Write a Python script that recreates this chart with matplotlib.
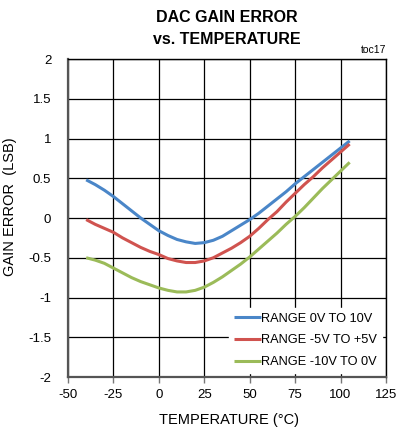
import matplotlib
matplotlib.use('Agg')
import matplotlib.pyplot as plt

# Temperature points (deg C)
temp = [-40, -35, -30, -25, -20, -15, -10, -5, 0, 5, 10, 15, 20, 25, 30,
        35, 40, 45, 50, 55, 60, 65, 70, 75, 80, 85, 90, 95, 100, 105]

# Gain error (LSB) for each range
range_0_10 = [0.48, 0.42, 0.35, 0.27, 0.18, 0.09, 0.00, -0.08, -0.16, -0.22,
              -0.27, -0.30, -0.32, -0.31, -0.28, -0.23, -0.16, -0.09, -0.02, 0.06,
              0.15, 0.24, 0.33, 0.43, 0.52, 0.61, 0.70, 0.79, 0.88, 0.97]
range_m5_p5 = [-0.02, -0.08, -0.13, -0.18, -0.25, -0.31, -0.37, -0.42, -0.46, -0.51,
               -0.54, -0.56, -0.56, -0.54, -0.50, -0.44, -0.38, -0.31, -0.23, -0.13,
               -0.02, 0.08, 0.20, 0.31, 0.42, 0.52, 0.63, 0.73, 0.83, 0.93]
range_m10_0 = [-0.50, -0.53, -0.57, -0.63, -0.69, -0.75, -0.80, -0.84, -0.88, -0.91,
               -0.93, -0.93, -0.91, -0.87, -0.81, -0.74, -0.66, -0.58, -0.49, -0.39,
               -0.29, -0.19, -0.08, 0.02, 0.13, 0.25, 0.37, 0.48, 0.59, 0.70]

labels = ['RANGE 0V TO 10V', 'RANGE -5V TO +5V', 'RANGE -10V TO 0V']
colors = ['#4A86C8', '#D0534F', '#9BBB59']

xticks = [-50, -25, 0, 25, 50, 75, 100, 125]
yticks = [-2, -1.5, -1, -0.5, 0, 0.5, 1, 1.5, 2]
ytick_labels = ['-2', '-1.5', '-1', '-0.5', '0', '0.5', '1', '1.5', '2']

plt.rcParams['font.family'] = ['Liberation Sans', 'DejaVu Sans']
plt.rcParams['axes.unicode_minus'] = False

fig = plt.figure(figsize=(3.96, 4.32), dpi=100)
ax = fig.add_axes([68/396, 1 - 377/432, 318/396, 318/432])

for ys, lab, c in zip([range_0_10, range_m5_p5, range_m10_0], labels, colors):
    ax.plot(temp, ys, color=c, lw=2.2, label=lab, solid_capstyle='butt', zorder=3)

ax.set_xlim(-50, 125)
ax.set_ylim(-2, 2)
ax.set_xticks(xticks)
ax.set_yticks(yticks)
ax.set_yticklabels(ytick_labels)
ax.grid(True, color='black', lw=0.9, zorder=1)
ax.tick_params(axis='x', direction='out', length=4, width=1, color='#777777',
               labelsize=9.5, pad=5)
ax.tick_params(axis='y', length=0, labelsize=9.5, pad=12)
for s in ['left', 'bottom']:
    ax.spines[s].set_color('#555555')
    ax.spines[s].set_linewidth(1.6)
for s in ['top', 'right']:
    ax.spines[s].set_color('black')
    ax.spines[s].set_linewidth(1.0)

leg = ax.legend(loc='lower right', frameon=True, fontsize=9.2, handlelength=2.1,
                handletextpad=0.05, borderaxespad=0.3, labelspacing=0.75,
                fancybox=False, borderpad=0.4)
leg.get_frame().set_edgecolor('white')
leg.get_frame().set_facecolor('white')
leg.get_frame().set_alpha(1)

ax.set_xlabel('TEMPERATURE (°C)', fontsize=10.5)
ax.xaxis.set_label_coords((229 - 68) / 318, (377 - 413) / 318)
ax.set_ylabel('GAIN ERROR  (LSB)', fontsize=10.5)
ax.yaxis.set_label_coords((17 - 68) / 318, (377 - 207) / 318)

fig.text(227/396, 1 - 18/432, 'DAC GAIN ERROR', ha='center', va='center',
         fontsize=11.5, fontweight='bold')
fig.text(227/396, 1 - 39/432, 'vs. TEMPERATURE', ha='center', va='center',
         fontsize=11.5, fontweight='bold')
fig.text(386/396, 1 - 50/432, 'toc17', ha='right', va='center', fontsize=7.5)

fig.savefig('out.png', dpi=100)
